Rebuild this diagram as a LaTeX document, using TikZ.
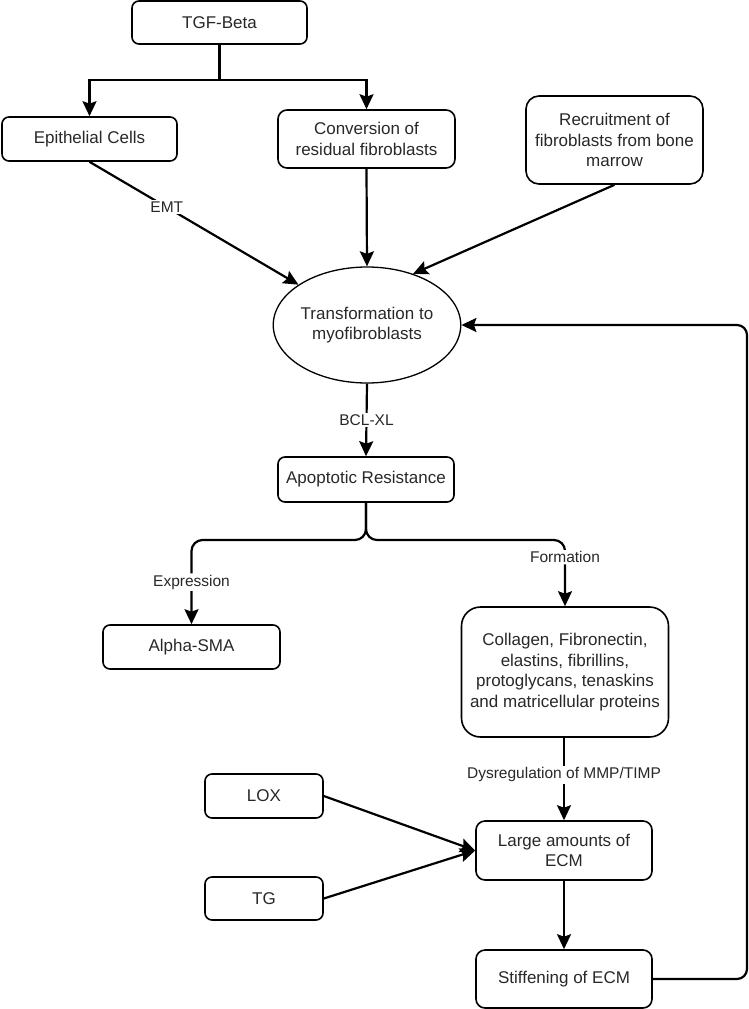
\documentclass[tikz,border=0pt]{standalone}
\usepackage{fontspec}
\setmainfont{Liberation Sans}
\usetikzlibrary{arrows.meta,shapes.geometric,calc}
\definecolor{txt}{RGB}{40,40,40}
\begin{document}
\begin{tikzpicture}[x=1pt,y=-1pt,
  box/.style={draw=black, line width=1.6pt, rounded corners=7pt, align=center, inner sep=0pt, text=txt, font=\fontsize{17}{20.6}\selectfont},
  conn/.style={line width=2.2pt, -{Stealth[length=15pt,width=14pt,inset=2.5pt]}},
  plain/.style={line width=2.2pt},
  lab/.style={fill=white, inner sep=1.5pt, text=txt, font=\fontsize{15.5}{18}\selectfont}]
\useasboundingbox (0,0) rectangle (749,1009);

% nodes
\node[box, minimum width=175pt, minimum height=43pt] (tgf) at (219.5,22.5) {TGF-Beta};
\node[box, minimum width=175pt, minimum height=44pt] (epi) at (89.5,139) {Epithelial Cells};
\node[box, minimum width=177pt, minimum height=58pt, rounded corners=9pt] (conv) at (366.5,139) {Conversion of\\residual fibroblasts};
\node[box, minimum width=177pt, minimum height=88pt, rounded corners=13pt] (rec) at (614.5,140) {Recruitment of\\fibroblasts from bone\\marrow};
\node[ellipse, draw=black, line width=1.3pt, inner sep=0pt, minimum width=178pt, minimum height=116pt, align=center, text=txt, font=\fontsize{17}{20.6}\selectfont] (ell) at (367,325) {Transformation to\\myofibroblasts};
\node[box, minimum width=176pt, minimum height=45pt] (apo) at (366,479.5) {Apoptotic Resistance};
\node[box, minimum width=177pt, minimum height=44pt] (alpha) at (191.5,647) {Alpha-SMA};
\node[box, minimum width=207pt, minimum height=130pt, rounded corners=19pt] (col) at (565,672) {Collagen, Fibronectin,\\elastins, fibrillins,\\protoglycans, tenaskins\\and matricellular proteins};
\node[box, minimum width=118pt, minimum height=44pt] (lox) at (264,796) {LOX};
\node[box, minimum width=118pt, minimum height=43pt] (tg) at (264,898.5) {TG};
\node[box, minimum width=176pt, minimum height=59pt, rounded corners=9pt] (large) at (564,850.5) {Large amounts of\\ECM};
\node[box, minimum width=176pt, minimum height=58pt, rounded corners=9pt] (stiff) at (564,979) {Stiffening of ECM};

% connectors
\coordinate (split) at (219.5,80);
\draw[plain] (tgf.south) -- (split);
\draw[conn] (split) -| (epi.north);
\draw[conn] (split) -| (conv.north);

\draw[conn] (epi.south) -- node[lab, pos=0.37] {EMT} (ell);
\draw[conn] (conv.south) -- (ell.north);
\draw[conn] (rec.south) -- (ell.48);

\draw[conn] (ell.south) -- node[lab, pos=0.5] {BCL-XL} (apo.north);

\coordinate (brace) at (366,540);
\draw[conn, rounded corners=11pt] (apo.south) -- (brace) -| node[lab, pos=0.75] {Expression} (alpha.north);
\draw[conn, rounded corners=11pt] (apo.south) -- (brace) -| node[lab, pos=0.63] {Formation} (col.north);

\draw[conn] (col.south -| large.north) -- node[lab, pos=0.45] {Dysregulation of MMP/TIMP} (large.north);
\draw[conn] (lox.east) -- (large.west);
\draw[conn] (tg.east) -- (large.west);
\draw[conn] (large.south) -- (stiff.north);

\coordinate (fbr) at (747,979);
\draw[conn, rounded corners=10pt] (stiff.east) -- (fbr) |- (ell.east);
\end{tikzpicture}
\end{document}
